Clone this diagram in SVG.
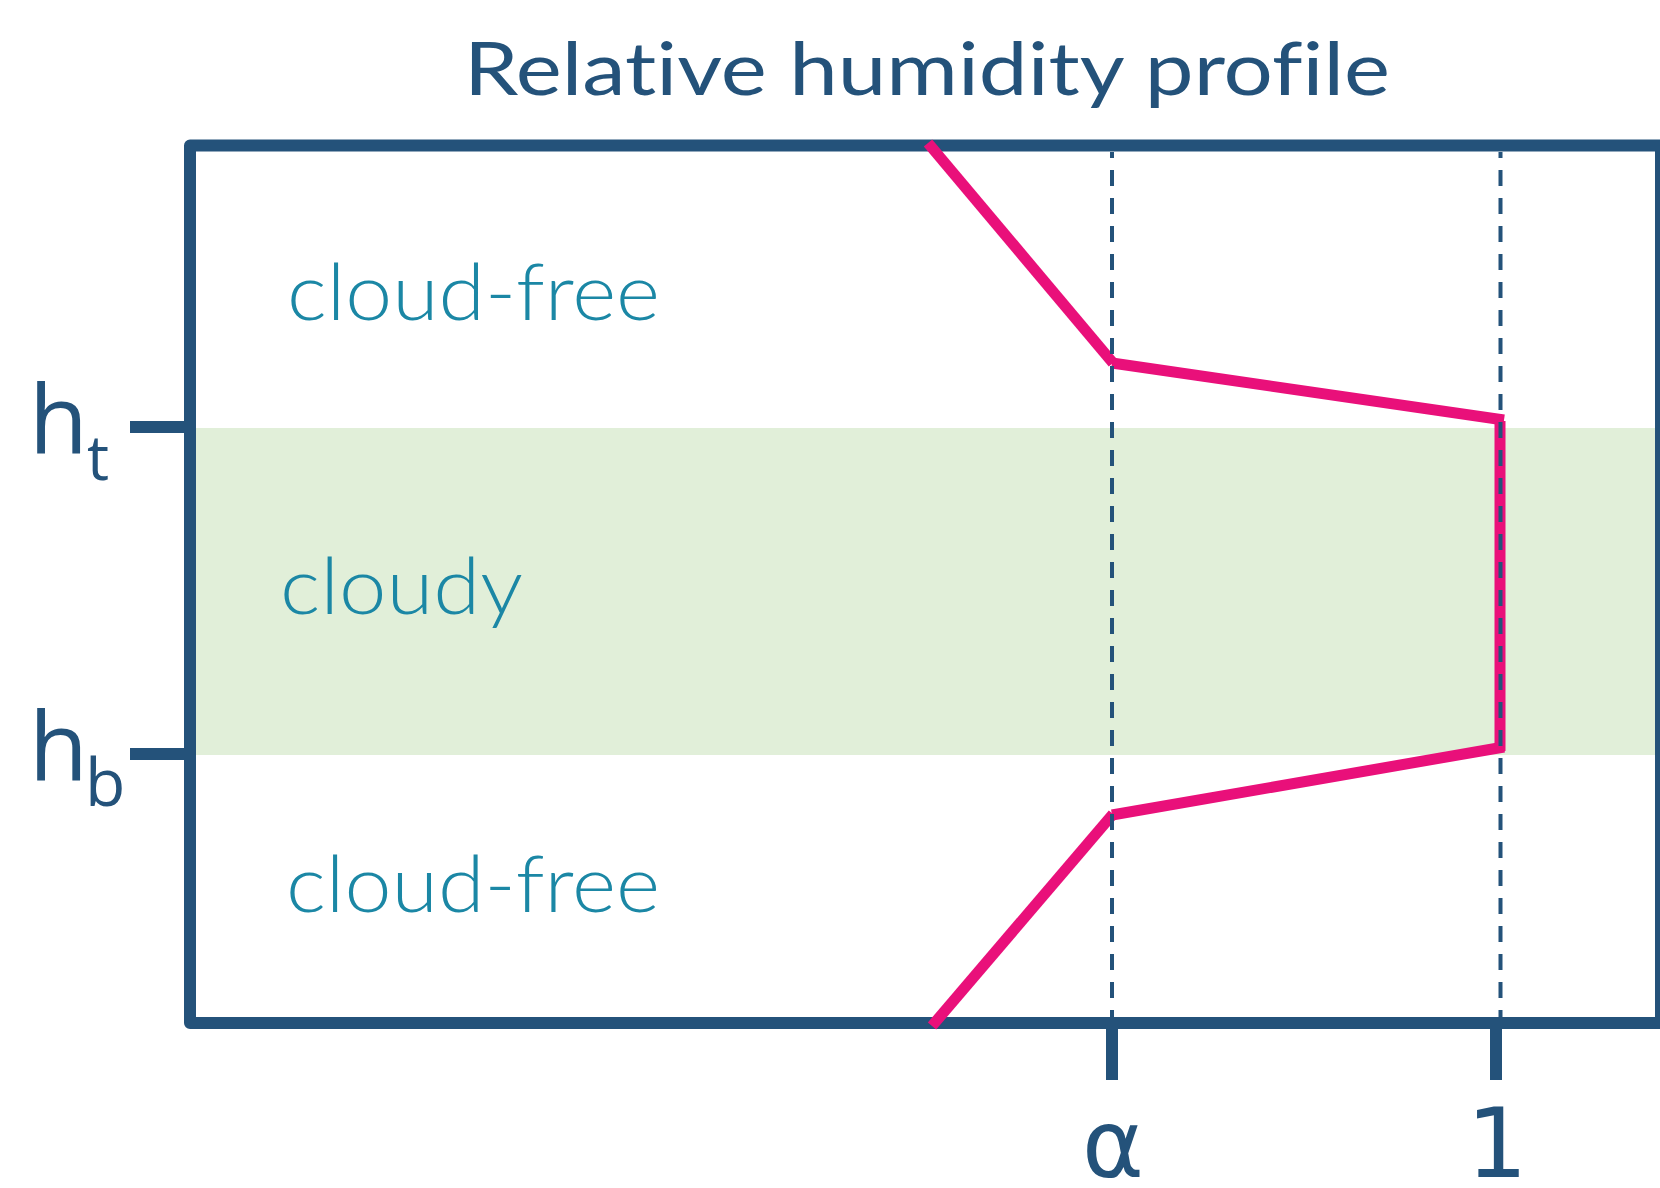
<svg xmlns="http://www.w3.org/2000/svg" width="1660" height="1188" viewBox="0 0 1660 1188">
  <style>
    .frame { fill: none; stroke: #24527A; stroke-width: 12; stroke-linejoin: round; }
    .tick { stroke: #24527A; stroke-width: 12; stroke-linecap: butt; }
    .dash { stroke: #24527A; stroke-width: 4; stroke-dasharray: 16 12; stroke-dashoffset: 10; fill: none; }
    .rh { stroke: #E9107A; stroke-width: 11; stroke-linecap: butt; fill: none; }
    .title { font-family: Lato, "Open Sans", sans-serif; font-size: 74px; fill: #24527A; font-variant-ligatures: none; }
    .region { font-family: Lato, "Open Sans", sans-serif; font-weight: 300; font-size: 78px; fill: #1B87A5; font-variant-ligatures: none; }
    .sym { font-family: "DejaVu Sans", "Open Sans", sans-serif; fill: #24527A; }
    .hlab { font-family: "Open Sans", "DejaVu Sans", sans-serif; fill: #24527A; }
  </style>
  <rect width="1660" height="1188" fill="#FFFFFF"/>
  <g id="cloud-band">
    <rect x="196" y="428" width="1459" height="327" fill="#E1EFD9"/>
  </g>
  <g id="frame">
    <rect class="frame" x="190" y="145.5" width="1471" height="877.5"/>
  </g>
  <g id="title">
    <text class="title" x="464" y="95" textLength="926" lengthAdjust="spacingAndGlyphs">Relative humidity profile</text>
  </g>
  <g id="region-top">
    <text class="region" x="287" y="320" textLength="373" lengthAdjust="spacingAndGlyphs">cloud-free</text>
  </g>
  <g id="region-cloudy">
    <text class="region" x="280" y="614" textLength="243" lengthAdjust="spacingAndGlyphs">cloudy</text>
  </g>
  <g id="region-bottom">
    <text class="region" x="286" y="912" textLength="374" lengthAdjust="spacingAndGlyphs">cloud-free</text>
  </g>
  <g id="label-ht">
    <line class="tick" x1="130" y1="427" x2="186" y2="427"/>
    <text class="hlab" x="29" y="453" font-size="96">h</text>
    <text class="hlab" x="87" y="480" font-size="62">t</text>
  </g>
  <g id="label-hb">
    <line class="tick" x1="130" y1="754" x2="186" y2="754"/>
    <text class="hlab" x="29" y="780" font-size="96">h</text>
    <text class="hlab" x="85" y="806" font-size="66">b</text>
  </g>
  <g id="label-alpha">
    <line class="tick" x1="1112" y1="1029" x2="1112" y2="1080"/>
    <text class="sym" x="1113" y="1177" font-size="94" text-anchor="middle">α</text>
  </g>
  <g id="label-one">
    <line class="tick" x1="1496" y1="1029" x2="1496" y2="1080"/>
    <text class="sym" x="1497" y="1177" font-size="96" text-anchor="middle">1</text>
  </g>
  <g id="connectors">
    <line class="rh" x1="928" y1="143" x2="1113" y2="363"/>
    <line class="rh" x1="1112" y1="363" x2="1504" y2="420"/>
    <line class="rh" x1="1500" y1="421" x2="1500" y2="751"/>
    <line class="rh" x1="1504" y1="747" x2="1112" y2="815"/>
    <line class="rh" x1="1113" y1="814" x2="932" y2="1026"/>
    <line class="dash" x1="1112" y1="152" x2="1112" y2="1017"/>
    <line class="dash" x1="1500.5" y1="152" x2="1500.5" y2="1017"/>
  </g>
</svg>
